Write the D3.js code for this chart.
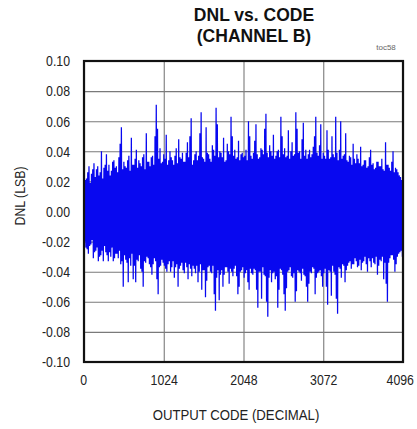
<!DOCTYPE html>
<html>
<head>
<meta charset="utf-8">
<script src="https://cdn.jsdelivr.net/npm/d3@7"></script>
<style>
	body { margin: 0; background: #fff; }
	svg { display: block; font-family: 'Liberation Sans', Arial, sans-serif; }
</style>
</head>
<body>
<div id="chart"></div>
<script>

// x ticks (output code) and y ticks (DNL in LSB)
var xTicks = [0, 1024, 2048, 3072, 4096];
var yTicks = [0.10, 0.08, 0.06, 0.04, 0.02, 0.00, -0.02, -0.04, -0.06, -0.08, -0.10];
var yTickLabels = ['0.10', '0.08', '0.06', '0.04', '0.02', '0.00', '-0.02', '-0.04', '-0.06', '-0.08', '-0.10'];

// the trace was read in blocks of 32 codes, four samples per block
var codeStep = 32;

// positive peaks (code k*32)
var dnlUpper = [
	0.027, 0.022, 0.030, 0.025, 0.032, 0.028, 0.024, 0.040, 0.029, 0.038, 0.031, 0.027, 0.034, 0.030, 0.036, 0.056,
	0.033, 0.029, 0.037, 0.049, 0.031, 0.041, 0.034, 0.030, 0.038, 0.052, 0.033, 0.036, 0.031, 0.071, 0.035, 0.032,
	0.038, 0.051, 0.034, 0.036, 0.031, 0.042, 0.048, 0.035, 0.033, 0.039, 0.036, 0.062, 0.034, 0.040, 0.037, 0.066,
	0.035, 0.056, 0.038, 0.033, 0.041, 0.069, 0.036, 0.039, 0.049, 0.034, 0.040, 0.063, 0.037, 0.035, 0.047, 0.038,
	0.036, 0.041, 0.060, 0.037, 0.039, 0.058, 0.035, 0.042, 0.038, 0.065, 0.036, 0.040, 0.051, 0.037, 0.041, 0.063,
	0.038, 0.036, 0.054, 0.040, 0.037, 0.066, 0.039, 0.035, 0.059, 0.041, 0.038, 0.036, 0.043, 0.063, 0.037, 0.058,
	0.039, 0.035, 0.041, 0.036, 0.038, 0.063, 0.034, 0.060, 0.037, 0.052, 0.033, 0.036, 0.045, 0.032, 0.035, 0.043,
	0.031, 0.034, 0.030, 0.041, 0.032, 0.029, 0.033, 0.030, 0.028, 0.046, 0.031, 0.027, 0.040, 0.029, 0.026, 0.023
];

// negative samples inside the band (code k*32 + 8)
var dnlLowerMid = [
	-0.020, -0.025, -0.023, -0.019, -0.027, -0.024, -0.030, -0.026, -0.023, -0.029, -0.027, -0.024, -0.031, -0.028, -0.026, -0.033,
	-0.029, -0.034, -0.031, -0.028, -0.036, -0.032, -0.029, -0.040, -0.033, -0.030, -0.035, -0.042, -0.031, -0.045, -0.037, -0.032,
	-0.036, -0.040, -0.033, -0.037, -0.044, -0.035, -0.038, -0.034, -0.041, -0.037, -0.035, -0.043, -0.038, -0.036, -0.040, -0.052,
	-0.039, -0.046, -0.036, -0.041, -0.055, -0.044, -0.059, -0.039, -0.042, -0.037, -0.048, -0.040, -0.038, -0.043, -0.050, -0.039,
	-0.044, -0.039, -0.052, -0.041, -0.038, -0.052, -0.040, -0.058, -0.042, -0.060, -0.044, -0.047, -0.040, -0.043, -0.052, -0.039,
	-0.055, -0.051, -0.039, -0.043, -0.041, -0.053, -0.040, -0.046, -0.042, -0.050, -0.048, -0.041, -0.038, -0.044, -0.040, -0.043,
	-0.041, -0.050, -0.039, -0.056, -0.040, -0.058, -0.037, -0.044, -0.036, -0.039, -0.034, -0.038, -0.035, -0.033, -0.036, -0.039,
	-0.033, -0.035, -0.031, -0.037, -0.034, -0.030, -0.036, -0.033, -0.045, -0.048, -0.034, -0.029, -0.032, -0.035, -0.028, -0.026
];

// positive samples inside the band (code k*32 + 16)
var dnlUpperMid = [
	0.021, 0.026, 0.019, 0.028, 0.023, 0.030, 0.026, 0.022, 0.031, 0.027, 0.024, 0.033, 0.029, 0.026, 0.045, 0.028,
	0.030, 0.034, 0.027, 0.031, 0.035, 0.029, 0.032, 0.036, 0.028, 0.033, 0.030, 0.037, 0.050, 0.055, 0.042, 0.033,
	0.035, 0.031, 0.040, 0.034, 0.037, 0.032, 0.036, 0.039, 0.033, 0.046, 0.050, 0.031, 0.038, 0.034, 0.052, 0.036,
	0.033, 0.039, 0.035, 0.044, 0.037, 0.058, 0.040, 0.036, 0.033, 0.045, 0.038, 0.050, 0.041, 0.036, 0.034, 0.039,
	0.037, 0.034, 0.050, 0.035, 0.047, 0.038, 0.036, 0.041, 0.055, 0.039, 0.044, 0.037, 0.035, 0.040, 0.036, 0.050,
	0.042, 0.037, 0.035, 0.046, 0.038, 0.055, 0.040, 0.048, 0.037, 0.035, 0.041, 0.038, 0.050, 0.039, 0.044, 0.035,
	0.037, 0.054, 0.035, 0.050, 0.036, 0.039, 0.041, 0.035, 0.038, 0.034, 0.037, 0.031, 0.035, 0.038, 0.032, 0.030,
	0.034, 0.029, 0.036, 0.031, 0.028, 0.033, 0.030, 0.035, 0.027, 0.031, 0.029, 0.033, 0.026, 0.028, 0.024, 0.021
];

// negative peaks (code k*32 + 24)
var dnlLower = [
	-0.024, -0.028, -0.022, -0.031, -0.026, -0.033, -0.029, -0.033, -0.027, -0.033, -0.030, -0.033, -0.028, -0.031, -0.035, -0.050,
	-0.032, -0.047, -0.036, -0.045, -0.047, -0.033, -0.038, -0.050, -0.034, -0.031, -0.037, -0.035, -0.033, -0.055, -0.036, -0.034,
	-0.038, -0.035, -0.040, -0.033, -0.037, -0.050, -0.036, -0.039, -0.034, -0.045, -0.038, -0.036, -0.041, -0.047, -0.035, -0.039,
	-0.057, -0.037, -0.040, -0.036, -0.066, -0.039, -0.042, -0.050, -0.037, -0.040, -0.038, -0.043, -0.036, -0.055, -0.040, -0.037,
	-0.041, -0.047, -0.038, -0.042, -0.039, -0.064, -0.040, -0.037, -0.043, -0.070, -0.039, -0.041, -0.045, -0.064, -0.038, -0.042,
	-0.066, -0.040, -0.037, -0.044, -0.060, -0.039, -0.041, -0.038, -0.043, -0.060, -0.040, -0.037, -0.055, -0.041, -0.039, -0.050,
	-0.038, -0.062, -0.040, -0.036, -0.042, -0.068, -0.038, -0.035, -0.047, -0.036, -0.033, -0.035, -0.031, -0.037, -0.032, -0.034,
	-0.030, -0.040, -0.033, -0.031, -0.035, -0.042, -0.032, -0.030, -0.034, -0.060, -0.031, -0.029, -0.040, -0.030, -0.027, -0.030
];

var width = 417;
var height = 429;
var margin = { top: 61, right: 14, bottom: 67, left: 84 };
var narrow = 0.82; // no condensed face installed, so labels are squeezed

var svg = d3.select('#chart')
	.append('svg')
		.attr('width', width)
		.attr('height', height);

var x = d3.scaleLinear()
	.domain([0, 4096])
	.range([margin.left, width - margin.right]);

var y = d3.scaleLinear()
	.domain([-0.10, 0.10])
	.range([height - margin.bottom, margin.top]);

// put the samples back in code order
var trace = [];
dnlUpper.forEach(function(v, i) {
	var c = i * codeStep;
	trace.push({ code: c, dnl: v });
	trace.push({ code: c + 8, dnl: dnlLowerMid[i] });
	trace.push({ code: c + 16, dnl: dnlUpperMid[i] });
	trace.push({ code: c + 24, dnl: dnlLower[i] });
});

// grid
svg.append('g')
	.attr('class', 'grid')
	.attr('transform', `translate(0, ${height - margin.bottom})`)
	.call(d3.axisBottom(x).tickValues(xTicks).tickSize(-(height - margin.top - margin.bottom)).tickFormat(''))
	.call(function(g) { g.select('.domain').remove(); });

svg.append('g')
	.attr('class', 'grid')
	.attr('transform', `translate(${margin.left}, 0)`)
	.call(d3.axisLeft(y).tickValues(yTicks).tickSize(-(width - margin.left - margin.right)).tickFormat(''))
	.call(function(g) { g.select('.domain').remove(); });

svg.selectAll('.grid line')
	.attr('stroke', '#7a7a7a')
	.attr('stroke-width', 1.1);

// data
svg.append('path')
	.datum(trace)
	.attr('fill', 'none')
	.attr('stroke', '#0808f0')
	.attr('stroke-width', 1.25)
	.attr('d', d3.line()
		.x(function(d) { return x(d.code); })
		.y(function(d) { return y(d.dnl); }));

// frame
svg.append('rect')
	.attr('x', margin.left)
	.attr('y', margin.top)
	.attr('width', width - margin.left - margin.right)
	.attr('height', height - margin.top - margin.bottom)
	.attr('fill', 'none')
	.attr('stroke', '#111')
	.attr('stroke-width', 2.2);

// tick labels
var yAxis = svg.append('g')
	.attr('transform', `translate(${margin.left}, 0)`)
	.call(d3.axisLeft(y).tickValues(yTicks).tickSize(0).tickPadding(14)
		.tickFormat(function(d, i) { return yTickLabels[i]; }));
yAxis.select('.domain').remove();
yAxis.selectAll('text')
	.attr('font-size', 15)
	.attr('fill', '#222')
	.attr('x', -14 / narrow)
	.attr('transform', `scale(${narrow}, 1)`);

var xAxis = svg.append('g')
	.attr('transform', `translate(0, ${height - margin.bottom})`)
	.call(d3.axisBottom(x).tickValues(xTicks).tickSize(0).tickPadding(12)
		.tickFormat(function(d) { return String(d); }));
xAxis.select('.domain').remove();
xAxis.selectAll('text')
	.attr('font-size', 15)
	.attr('fill', '#222')
	.attr('dx', function(d) { return d === 4096 ? -4 : (d === 0 ? -1 : 0); })
	.attr('transform', `scale(${narrow}, 1)`);

// titles
svg.append('text')
	.attr('x', 254)
	.attr('y', 21)
	.attr('text-anchor', 'middle')
	.attr('font-weight', 'bold')
	.attr('font-size', 17.5)
	.attr('fill', '#111')
	.text('DNL vs. CODE');

svg.append('text')
	.attr('x', 254)
	.attr('y', 42)
	.attr('text-anchor', 'middle')
	.attr('font-weight', 'bold')
	.attr('font-size', 17.5)
	.attr('fill', '#111')
	.text('(CHANNEL B)');

svg.append('text')
	.attr('x', 386)
	.attr('y', 50)
	.attr('text-anchor', 'middle')
	.attr('font-size', 8)
	.attr('fill', '#666')
	.text('toc58');

svg.append('text')
	.attr('transform', `translate(236, 420) scale(0.85, 1)`)
	.attr('text-anchor', 'middle')
	.attr('font-size', 15.5)
	.attr('fill', '#222')
	.text('OUTPUT CODE (DECIMAL)');

svg.append('text')
	.attr('transform', `translate(25, 196) rotate(-90) scale(${narrow}, 1)`)
	.attr('text-anchor', 'middle')
	.attr('font-size', 15)
	.attr('fill', '#222')
	.text('DNL (LSB)');

</script>
</body>
</html>
